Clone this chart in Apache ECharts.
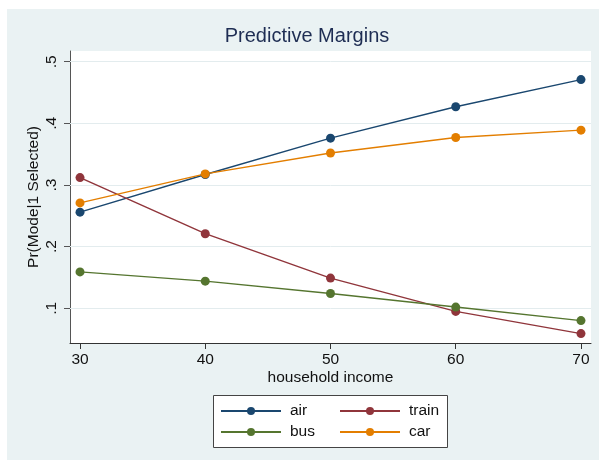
<!DOCTYPE html>
<html>
<head>
<meta charset="utf-8">
<script src="https://cdn.jsdelivr.net/npm/echarts@6/dist/echarts.min.js"></script>
<style>
  html, body { margin: 0; padding: 0; background: #ffffff; }
  #chart { position: absolute; left: 7px; top: 9px; width: 592px; height: 451px; }
</style>
</head>
<body>
<div id="chart"></div>
<script>
// household income levels (x values)
const income = [30, 40, 50, 60, 70];
// predicted probability of each mode being selected
const air   = [0.256, 0.317, 0.376, 0.427, 0.471];
const train = [0.312, 0.221, 0.149, 0.095, 0.059];
const bus   = [0.159, 0.144, 0.124, 0.102, 0.080];
const car   = [0.271, 0.318, 0.352, 0.377, 0.389];
// tick positions
const xTicks = [30, 40, 50, 60, 70];
const yTicks = [0.1, 0.2, 0.3, 0.4, 0.5];

const FONT = '"Liberation Sans", Arial, Helvetica, sans-serif';
const colors = { air: '#1a476f', train: '#90353b', bus: '#55752f', car: '#e37e00' };

function pairs(ys) { return income.map((x, i) => [x, ys[i]]); }

function lineSeries(name, ys) {
  return {
    name: name,
    type: 'line',
    data: pairs(ys),
    symbol: 'circle',
    symbolSize: 9,
    color: colors[name],
    z: 6,
    lineStyle: { width: 1.4, color: colors[name] },
    itemStyle: { color: colors[name] },
    emphasis: { disabled: true },
    animation: false
  };
}

const chart = echarts.init(document.getElementById('chart'), null, { renderer: 'canvas' });

const legendCommon = {
  orient: 'vertical',
  itemWidth: 60,
  itemHeight: 10,
  itemGap: 5,
  padding: 0,
  z: 10,
  selectedMode: false,
  textStyle: { fontFamily: FONT, fontSize: 15.5, color: '#111', lineHeight: 16, padding: [0, 0, 0, 4] }
};

chart.setOption({
  backgroundColor: '#eaf2f3',
  animation: false,
  textStyle: { fontFamily: FONT },
  title: {
    text: 'Predictive Margins',
    left: 300,
    textAlign: 'center',
    top: 17,
    padding: 0,
    textStyle: { fontFamily: FONT, fontSize: 20, fontWeight: 'normal', color: '#1e2d53' }
  },
  graphic: [{
    type: 'rect',
    left: 206,
    top: 386,
    z: 0,
    shape: { width: 234, height: 52 },
    style: { fill: '#ffffff', stroke: '#444444', lineWidth: 1 }
  }],
  legend: [
    Object.assign({ left: 213, top: 394, data: ['air', 'bus'] }, legendCommon),
    Object.assign({ left: 332, top: 394, data: ['train', 'car'] }, legendCommon)
  ],
  grid: {
    left: 63, top: 42, width: 521, height: 292,
    show: true, backgroundColor: '#ffffff', borderWidth: 0
  },
  xAxis: {
    type: 'value',
    min: 29.2,
    max: 70.8,
    name: 'household income',
    nameLocation: 'middle',
    nameGap: 27,
    nameMoveOverlap: false,
    nameTextStyle: { fontFamily: FONT, fontSize: 15.5, color: '#111' },
    axisLine: { show: true, lineStyle: { color: '#333', width: 1 } },
    axisTick: { show: true, length: 6, customValues: xTicks, lineStyle: { color: '#333' } },
    axisLabel: { customValues: xTicks, margin: 9, fontFamily: FONT, fontSize: 15.5, color: '#111' },
    splitLine: { show: false }
  },
  yAxis: {
    type: 'value',
    min: 0.0437,
    max: 0.5174,
    name: 'Pr(Mode|1 Selected)',
    nameLocation: 'middle',
    nameGap: 28,
    nameMoveOverlap: false,
    nameTextStyle: { fontFamily: FONT, fontSize: 15.5, color: '#111' },
    axisLine: { show: true, lineStyle: { color: '#555', width: 1 } },
    axisTick: { show: true, length: 6, customValues: yTicks, lineStyle: { color: '#555' } },
    axisLabel: {
      customValues: yTicks,
      rotate: 90,
      margin: 10,
      fontFamily: FONT, fontSize: 15.5, color: '#111',
      formatter: v => v.toFixed(1).replace(/^0/, '')
    },
    splitLine: { show: false }
  },
  series: [
    lineSeries('air', air),
    lineSeries('train', train),
    lineSeries('bus', bus),
    lineSeries('car', car),
    {
      // horizontal grid lines at the labelled y ticks
      type: 'line',
      data: [],
      silent: true,
      z: 1,
      markLine: {
        silent: true,
        z: 1,
        symbol: ['none', 'none'],
        label: { show: false },
        animation: false,
        lineStyle: { type: 'solid', color: '#e3ecee', width: 1 },
        data: yTicks.map(v => ({ yAxis: v }))
      }
    }
  ]
});
</script>
</body>
</html>
